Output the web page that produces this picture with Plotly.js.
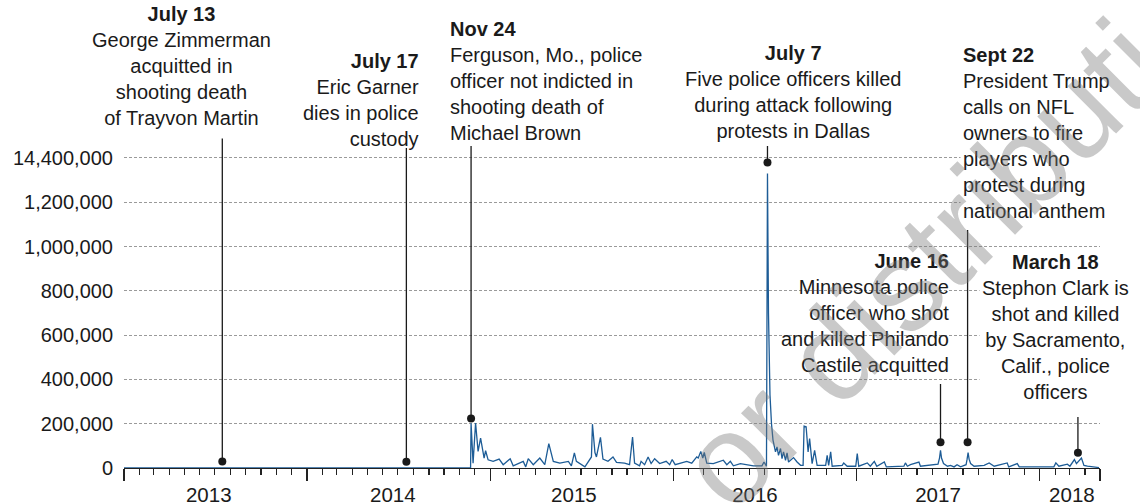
<!DOCTYPE html>
<html>
<head>
<meta charset="utf-8">
<script src="https://cdn.plot.ly/plotly-3.0.1.min.js"></script>
<style>
html,body{margin:0;padding:0;background:#fff;}
#chart{width:1140px;height:504px;}
</style>
</head>
<body>
<div id="chart"></div>
<script>
// ---------- DATA ----------
const dates = [
'2013-01-01','2014-11-23','2014-11-24','2014-11-28','2014-12-03','2014-12-08','2014-12-13','2014-12-17','2014-12-20','2014-12-23','2014-12-28',
'2015-01-07','2015-01-19','2015-01-27','2015-02-10','2015-02-16','2015-03-08','2015-03-13','2015-03-18','2015-03-28','2015-04-10','2015-04-20','2015-04-28',
'2015-05-07','2015-05-20','2015-06-06','2015-06-12','2015-06-18','2015-06-22','2015-07-09','2015-07-22','2015-07-24','2015-07-29','2015-08-01','2015-08-09',
'2015-08-14','2015-08-24','2015-09-03','2015-09-10','2015-09-26','2015-10-06','2015-10-12','2015-10-16','2015-10-26','2015-10-29','2015-11-05','2015-11-12',
'2015-11-18','2015-11-25','2015-12-05','2015-12-18','2015-12-25','2015-12-30',
'2016-01-05','2016-01-15','2016-01-28','2016-02-07','2016-02-17','2016-02-20','2016-02-25','2016-02-29','2016-03-03','2016-03-08','2016-03-21','2016-04-10',
'2016-04-17','2016-04-24','2016-04-30','2016-05-14','2016-05-27','2016-06-09','2016-06-26','2016-06-30','2016-07-05','2016-07-07','2016-07-09','2016-07-12',
'2016-07-15','2016-07-18','2016-07-23','2016-07-26','2016-07-29','2016-08-02','2016-08-05','2016-08-08','2016-08-12','2016-08-15','2016-08-18','2016-08-28',
'2016-09-04','2016-09-11','2016-09-16','2016-09-18','2016-09-22','2016-09-26','2016-09-29','2016-10-04','2016-10-09','2016-10-14','2016-10-31','2016-11-03',
'2016-11-06','2016-11-10','2016-11-13','2016-12-03','2016-12-06','2016-12-13','2016-12-30',
'2017-01-02','2017-01-05','2017-01-22','2017-01-28','2017-02-05','2017-02-10','2017-02-25','2017-03-01','2017-04-05','2017-04-08','2017-04-12','2017-04-18',
'2017-05-05','2017-05-08','2017-06-12','2017-06-15','2017-06-17','2017-06-19','2017-06-23','2017-07-01','2017-07-07','2017-07-14','2017-07-20','2017-07-27',
'2017-08-07','2017-08-09','2017-08-11','2017-08-13','2017-08-16','2017-08-23','2017-09-12','2017-09-22','2017-10-02','2017-10-28','2017-10-31','2017-11-17',
'2017-11-21','2018-01-29','2018-02-02','2018-02-08','2018-02-25','2018-03-02','2018-03-11','2018-03-15','2018-03-25','2018-03-30','2018-04-06','2018-04-29'
];
const values = [
0,0,202000,22000,203000,75000,135000,75000,45000,78000,37000,
30000,40000,15000,42000,10000,30000,5000,42000,15000,45000,15000,110000,
30000,22000,30000,10000,68000,30000,5000,50000,198000,70000,50000,138000,
40000,30000,50000,25000,22000,15000,140000,22000,10000,30000,15000,50000,
20000,42000,20000,30000,15000,38000,
15000,22000,30000,22000,50000,45000,75000,45000,70000,22000,20000,35000,
15000,30000,10000,20000,15000,10000,10000,27000,8000,1330000,700000,330000,
200000,126000,73000,95000,57000,88000,42000,73000,35000,68000,27000,47000,
27000,12000,12000,189000,186000,73000,133000,20000,80000,12000,12000,57000,
12000,73000,8000,12000,23000,8000,8000,
65000,8000,23000,8000,30000,8000,27000,5000,8000,23000,8000,15000,
27000,8000,17000,45000,80000,45000,20000,8000,12000,5000,15000,5000,
15000,40000,70000,40000,20000,8000,12000,23000,8000,23000,5000,20000,
5000,5000,23000,8000,17000,8000,38000,20000,45000,12000,8000,2000
];

const yearTickDates = ['2013-01-01','2014-01-01','2015-01-01','2016-01-01','2017-01-01','2018-01-01','2018-05-01'];
const yearLabelDates = ['2013-06-19','2014-06-21','2015-06-17','2016-06-12','2017-06-12','2018-03-06'];
const yearLabels = ['2013','2014','2015','2016','2017','2018'];

const yTickValues = [0,200000,400000,600000,800000,1000000,1200000,1400000];
const yTickLabels = ['0','200,000','400,000','600,000','800,000','1,000,000','1,200,000','14,400,000'];

const eventDates  = ['2013-07-16','2014-07-18','2014-11-24','2016-07-07','2017-06-17','2017-08-10','2018-03-18'];
const eventValues = [29000,28000,224000,1380000,116000,116000,69000];
const eventHeads  = ['July 13','July 17','Nov 24','July 7','June 16','Sept 22','March 18'];
const eventTexts  = [
  ['George Zimmerman','acquitted in','shooting death','of Trayvon Martin'],
  ['Eric Garner','dies in police','custody'],
  ['Ferguson, Mo., police','officer not indicted in','shooting death of','Michael Brown'],
  ['Five police officers killed','during attack following','protests in Dallas'],
  ['Minnesota police','officer who shot','and killed Philando','Castile acquitted'],
  ['President Trump','calls on NFL','owners to fire','players who','protest during','national anthem'],
  ['Stephon Clark is','shot and killed','by Sacramento,','Calif., police','officers']
];
const watermarkText = 'or distribution';

// ---------- LAYOUT ----------
const W = 1140, H = 504, ML = 124, MR = 40, MT = 0, MB = 36;
const plotW = W - ML - MR, plotH = H - MT - MB;
const yMax = 2113350;
const FONT = 'Liberation Sans, Arial, Helvetica, sans-serif';
const INK = '#1a1a1a';

// label block placement in pixels (centre-y of block, anchor x, connector top)
const labelPlace = [
  {px:181,  py:66,    anchor:'center', bg:false, top:138.5},
  {px:422,  py:100,   anchor:'right',  bg:false, top:148},
  {px:447,  py:81,    anchor:'left',   bg:false, top:146},
  {px:793,  py:92.5,  anchor:'center', bg:false, top:146},
  {px:952,  py:313,   anchor:'right',  bg:false, top:384},
  {px:960,  py:132.5, anchor:'left',   bg:true,  top:230},
  {px:1055, py:326.5, anchor:'center', bg:true,  top:417}
];
const pxToPaperX = px => (px - ML) / plotW;
const pyToPaperY = py => (H - MB - py) / plotH;
const pyToValue  = py => (H - MB - py) / plotH * yMax;

const annotations = [];
const shapes = [];
eventDates.forEach((d, i) => {
  const p = labelPlace[i];
  annotations.push({
    xref:'paper', yref:'paper', x:pxToPaperX(p.px), y:pyToPaperY(p.py),
    xanchor:p.anchor, yanchor:'middle', align:p.anchor, showarrow:false,
    text:'<b>' + eventHeads[i] + '</b><br>' + eventTexts[i].join('<br>'),
    font:{family:FONT, size:20, color:INK},
    bgcolor: p.bg ? '#ffffff' : 'rgba(0,0,0,0)', borderpad:2
  });
  shapes.push({
    type:'line', xref:'x', yref:'y', x0:d, x1:d, y0:eventValues[i], y1:pyToValue(p.top),
    line:{color:INK, width:1.3}, layer:'above'
  });
});
// watermark
annotations.push({
  xref:'paper', yref:'paper', x:pxToPaperX(972), y:pyToPaperY(214),
  xanchor:'center', yanchor:'middle', showarrow:false, textangle:-45,
  text:watermarkText, font:{family:FONT, size:128, color:'rgba(120,120,120,0.4)'}
});

const traces = [
  {x:dates, y:values, type:'scatter', mode:'lines', line:{color:'#1d5c96', width:1.3},
   cliponaxis:false, hoverinfo:'skip', showlegend:false},
  {x:eventDates, y:eventValues, xaxis:'x2', yaxis:'y', type:'scatter', mode:'markers',
   marker:{size:8, color:INK}, cliponaxis:false, hoverinfo:'skip', showlegend:false}
];

const xRange = ['2013-01-01','2018-05-01'];
const layout = {
  width:W, height:H, margin:{l:ML, r:MR, t:MT, b:MB, pad:0},
  paper_bgcolor:'#ffffff', plot_bgcolor:'#ffffff',
  font:{family:FONT, size:20, color:INK},
  showlegend:false,
  xaxis:{
    type:'date', range:xRange, showgrid:false, zeroline:false,
    showline:true, linecolor:'#222', linewidth:1.2,
    ticks:'outside', tickmode:'array', tickvals:yearTickDates, ticklen:12, tickwidth:1.2, tickcolor:'#222',
    showticklabels:false, layer:'below traces',
    minor:{ticks:'outside', tickmode:'linear', tick0:'2013-01-01', dtick:'M1', ticklen:6, tickwidth:1.2, tickcolor:'#222', showgrid:false}
  },
  xaxis2:{
    type:'date', range:xRange, overlaying:'x', anchor:'y', side:'bottom',
    tickmode:'array', tickvals:yearLabelDates, ticktext:yearLabels,
    ticks:'', showgrid:false, zeroline:false, showline:false,
    tickfont:{family:FONT, size:20.5, color:INK}, ticklabelstandoff:12
  },
  yaxis:{
    range:[0, yMax], tickmode:'array', tickvals:yTickValues, ticktext:yTickLabels,
    showgrid:true, gridcolor:'#9a9a9a', gridwidth:1, griddash:'3px,2px',
    zeroline:false, showline:false, ticks:'', ticklabelstandoff:10,
    tickfont:{family:FONT, size:20, color:INK}
  },
  annotations:annotations,
  shapes:shapes
};

Plotly.newPlot('chart', traces, layout, {displayModeBar:false, staticPlot:true});
</script>
</body>
</html>
